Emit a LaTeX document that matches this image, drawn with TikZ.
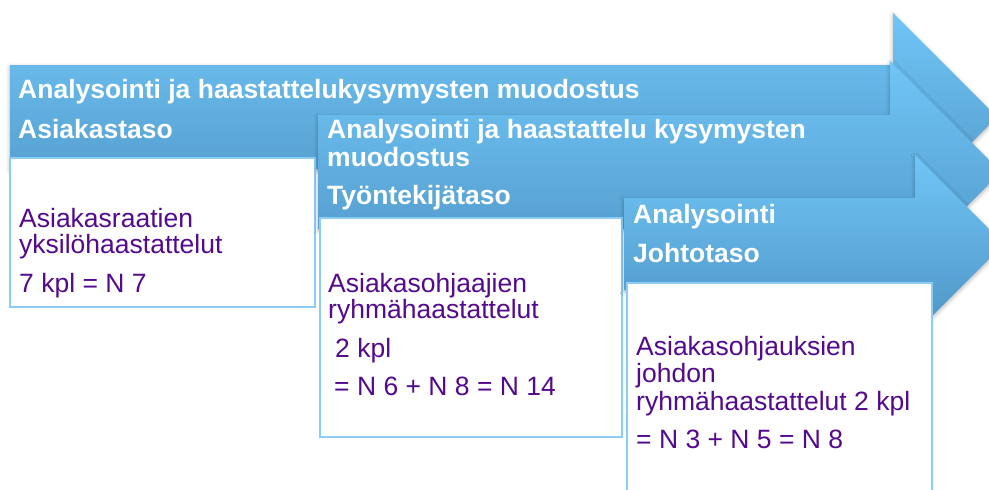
\documentclass[tikz,border=0pt]{standalone}
\usepackage{fontspec}
\setmainfont{Liberation Sans}
\usetikzlibrary{shadows.blur}
\definecolor{arrowtop}{RGB}{112,198,247}
\definecolor{arrowbot}{RGB}{78,148,196}
\definecolor{boxline}{RGB}{140,205,245}
\definecolor{itemtext}{RGB}{84,10,140}
\begin{document}
\begin{tikzpicture}[x=1pt,y=-1pt,
  stage/.style={top color=arrowtop, bottom color=arrowbot, draw=none,
    blur shadow={shadow xshift=0pt, shadow yshift=-2pt, shadow blur radius=4pt, shadow opacity=30}},
  itembox/.style={fill=white, draw=boxline, line width=1.6pt},
  headtext/.style={anchor=base west, inner sep=0pt, text=white,
    font=\fontsize{26.5}{28}\selectfont\bfseries},
  itemtext/.style={anchor=base west, inner sep=0pt, text=itemtext,
    font=\fontsize{26.5}{28}\selectfont}]
\useasboundingbox (0,0) rectangle (989,490);

% stage 1: customer level
\path[stage] (10,65) -- (893,65) -- (893,13) -- (997,117) -- (893,221)
  -- (893,169) -- (10,169) -- cycle;
\draw[itembox] (10,158) rectangle (315,307);
\node[headtext] (t1a) at (18,98) {Analysointi ja haastattelukysymysten muodostus};
\node[headtext] (t1b) at (18,138) {Asiakastaso};
\node[itemtext] (i1a) at (19,227) {Asiakasraatien};
\node[itemtext] (i1b) at (19,253) {yksilöhaastattelut};
\node[itemtext] (i1c) at (19,292) {7 kpl = N 7};

% stage 2: employee level
\path[stage] (318,115) -- (890,115) -- (890,61) -- (1001,172) -- (890,283)
  -- (890,229) -- (318,229) -- cycle;
\draw[itembox] (320,218) rectangle (622,437);
\node[headtext] (t2a) at (327,138) {Analysointi ja haastattelu kysymysten};
\node[headtext] (t2b) at (327,166) {muodostus};
\node[headtext] (t2c) at (327,204) {Työntekijätaso};
\node[itemtext] (i2a) at (328,292) {Asiakasohjaajien};
\node[itemtext] (i2b) at (328,318) {ryhmähaastattelut};
\node[itemtext] (i2c) at (335,357) {2 kpl};
\node[itemtext] (i2d) at (334,395) {= N 6 + N 8 = N 14};

% stage 3: management level
\path[stage] (624,198) -- (915,198) -- (915,155) -- (1004,244) -- (915,333)
  -- (915,290) -- (624,290) -- cycle;
\draw[itembox] (627,283) rectangle (932,500);
\node[headtext] (t3a) at (633,223) {Analysointi};
\node[headtext] (t3b) at (633,262) {Johtotaso};
\node[itemtext] (i3a) at (636,355) {Asiakasohjauksien};
\node[itemtext] (i3b) at (636,382) {johdon};
\node[itemtext] (i3c) at (636,410) {ryhmähaastattelut 2 kpl};
\node[itemtext] (i3d) at (636,448) {= N 3 + N 5 = N 8};
\end{tikzpicture}
\end{document}
